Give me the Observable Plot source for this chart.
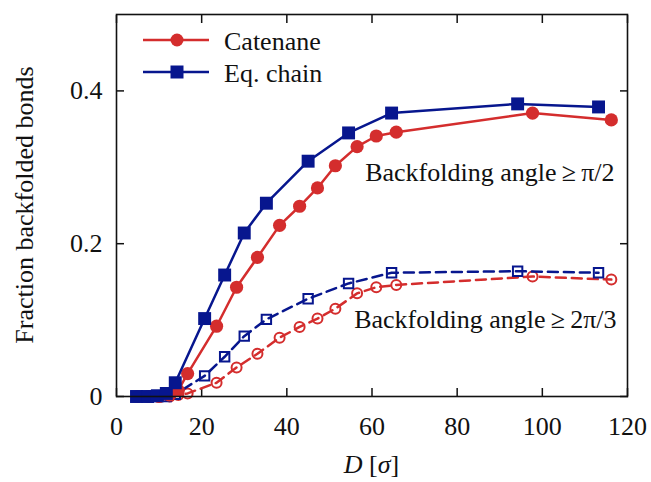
<!DOCTYPE html>
<html>
<head>
<meta charset="utf-8">
<script src="https://cdn.jsdelivr.net/npm/d3@7"></script>
<script src="https://cdn.jsdelivr.net/npm/@observablehq/plot@0.6"></script>
<style>
  html, body { margin: 0; padding: 0; background: #fff; }
  #chart { width: 651px; height: 482px; }
  #chart svg, #chart svg text { font-family: "Liberation Serif", "Times New Roman", serif !important; }
</style>
</head>
<body>
<div id="chart"></div>
<script>
// ---- Data ----
const catenaneD     = [5, 7.5, 10, 12.5, 14.5, 16.7, 23.5, 28.2, 33.1, 38.3, 43.0, 47.2, 51.4, 56.5, 61.0, 65.7, 97.7, 116.2];
const catenaneHalf  = [0, 0, 0, 0.002, 0.008, 0.030, 0.092, 0.143, 0.182, 0.224, 0.249, 0.273, 0.302, 0.327, 0.341, 0.346, 0.371, 0.362];
const catenaneThird = [0, 0, 0, 0, 0.002, 0.004, 0.018, 0.038, 0.056, 0.077, 0.091, 0.102, 0.115, 0.135, 0.143, 0.146, 0.157, 0.153];

const chainD     = [4.7, 7.3, 9.6, 11.7, 13.8, 20.7, 25.4, 30.0, 35.2, 45.0, 54.5, 64.6, 94.2, 113.2];
const chainHalf  = [0, 0, 0.001, 0.004, 0.018, 0.102, 0.159, 0.214, 0.253, 0.308, 0.345, 0.371, 0.383, 0.379];
const chainThird = [0, 0, 0, 0, 0.003, 0.027, 0.052, 0.079, 0.101, 0.128, 0.148, 0.162, 0.164, 0.162];

const xTicks = [0, 20, 40, 60, 80, 100, 120];
const yTicks = [0, 0.2, 0.4];
const seriesNames = ["Catenane", "Eq. chain"];
const annotations = ["Backfolding angle\u2009\u2265\u2009\u03c0/2", "Backfolding angle\u2009\u2265\u20092\u03c0/3"];
const yLabel = "Fraction backfolded bonds";

// ---- Styles ----
const RED = "#d42d2d";
const BLUE = "#07168e";
const FONT = "'Liberation Serif', 'Times New Roman', serif";
const FS = 26;

const catenane = catenaneD.map((D, i) => ({D, half: catenaneHalf[i], third: catenaneThird[i]}));
const chain = chainD.map((D, i) => ({D, half: chainHalf[i], third: chainThird[i]}));

const legendItems = [
  {label: seriesNames[0], color: RED, symbol: d3.symbolCircle, size: Math.PI * 6.5 * 6.5},
  {label: seriesNames[1], color: BLUE, symbol: d3.symbolSquare, size: 13 * 13}
];

function legendMark(index, scales, values, dims) {
  const g = d3.create("svg:g").attr("font-family", FONT).attr("font-size", FS).attr("fill", "#111");
  const x0 = dims.marginLeft, y0 = dims.marginTop;
  legendItems.forEach((item, i) => {
    const y = y0 + 26 + i * 32;
    g.append("line").attr("x1", x0 + 27).attr("x2", x0 + 93).attr("y1", y).attr("y2", y)
      .attr("stroke", item.color).attr("stroke-width", 2.5);
    g.append("path").attr("d", d3.symbol(item.symbol, item.size)())
      .attr("transform", `translate(${x0 + 61},${y})`).attr("fill", item.color);
    g.append("text").attr("x", x0 + 108).attr("y", y).attr("dy", "0.37em")
      .attr("text-anchor", "start").text(item.label);
  });
  return g.node();
}

function axisLabels(index, scales, values, dims) {
  const g = d3.create("svg:g").attr("font-family", FONT).attr("font-size", FS).attr("fill", "#111");
  const cx = (dims.marginLeft + dims.width - dims.marginRight) / 2;
  const t = g.append("text").attr("x", cx).attr("y", dims.height - 9).attr("text-anchor", "middle");
  t.append("tspan").attr("font-style", "italic").text("D");
  t.append("tspan").text(" [");
  t.append("tspan").attr("font-style", "italic").text("\u03c3");
  t.append("tspan").text("]");
  const cy = (dims.marginTop + dims.height - dims.marginBottom) / 2;
  g.append("text").attr("transform", `translate(33,${cy}) rotate(-90)`)
    .attr("text-anchor", "middle").text(yLabel);
  return g.node();
}

const chart = Plot.plot({
  width: 651,
  height: 482,
  marginLeft: 116,
  marginRight: 24,
  marginTop: 14,
  marginBottom: 86,
  style: {fontFamily: FONT, fontSize: FS + "px", background: "#fff", color: "#111"},
  x: {domain: [0, 120]},
  y: {domain: [0, 0.5]},
  marks: [
    // tick labels
    Plot.axisX(xTicks, {anchor: "bottom", tickSize: 0, tickPadding: 20, label: null, fontSize: FS}),
    Plot.axisY(yTicks, {anchor: "left", tickSize: 0, tickPadding: 14, label: null, fontSize: FS, tickFormat: d3.format("")}),
    // inward ticks on all four sides
    Plot.axisX(xTicks, {anchor: "bottom", tickSize: -8, tickFormat: () => "", label: null, strokeWidth: 1.5}),
    Plot.axisX(xTicks, {anchor: "top", tickSize: -8, tickFormat: () => "", label: null, strokeWidth: 1.5}),
    Plot.axisY(yTicks, {anchor: "left", tickSize: -8, tickFormat: () => "", label: null, strokeWidth: 1.5}),
    Plot.axisY(yTicks, {anchor: "right", tickSize: -8, tickFormat: () => "", label: null, strokeWidth: 1.5}),
    // dashed series (>= 2pi/3)
    Plot.line(catenane, {x: "D", y: "third", stroke: RED, strokeWidth: 2.5, strokeDasharray: "10,6"}),
    Plot.dot(catenane, {x: "D", y: "third", r: 5, stroke: RED, fill: "none", strokeWidth: 2}),
    Plot.line(chain, {x: "D", y: "third", stroke: BLUE, strokeWidth: 2.5, strokeDasharray: "10,6"}),
    Plot.dot(chain, {x: "D", y: "third", r: 5.3, symbol: "square", stroke: BLUE, fill: "none", strokeWidth: 2}),
    // solid series (>= pi/2)
    Plot.line(catenane, {x: "D", y: "half", stroke: RED, strokeWidth: 2.5}),
    Plot.dot(catenane, {x: "D", y: "half", r: 6.6, fill: RED}),
    Plot.line(chain, {x: "D", y: "half", stroke: BLUE, strokeWidth: 2.5}),
    Plot.dot(chain, {x: "D", y: "half", r: 7.3, symbol: "square", fill: BLUE}),
    // annotations
    Plot.text([annotations[0]], {text: d => d, frameAnchor: "top-right", dx: -13, dy: 158, textAnchor: "end", lineAnchor: "middle", fontSize: FS, fill: "#111"}),
    Plot.text([annotations[1]], {text: d => d, frameAnchor: "top-right", dx: -11, dy: 305, textAnchor: "end", lineAnchor: "middle", fontSize: FS, fill: "#111"}),
    Plot.frame({stroke: "#111", strokeWidth: 1.6}),
    legendMark,
    axisLabels
  ]
});
document.getElementById("chart").appendChild(chart);
</script>
</body>
</html>
